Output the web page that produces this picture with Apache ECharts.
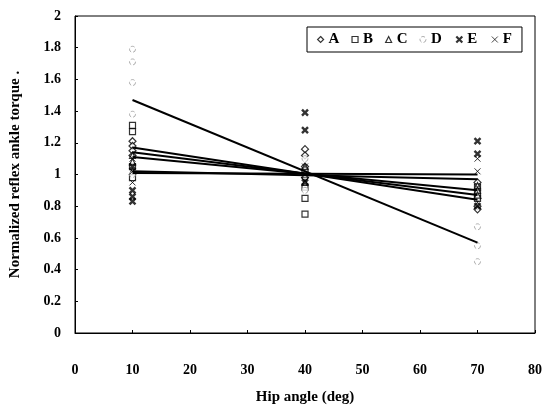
<!DOCTYPE html>
<html>
<head>
<meta charset="utf-8">
<script src="https://cdn.jsdelivr.net/npm/echarts@6/dist/echarts.min.js"></script>
<style>
  html, body { margin: 0; padding: 0; background: #fff; }
  #chart { width: 550px; height: 410px; }
</style>
</head>
<body>
<div id="chart"></div>
<script>
  // hip angles tested
  var angles = [10, 40, 70];

  // individual normalized torques per group, one list per angle
  var ptsA = [[1.21, 1.18, 1.15, 1.12], [1.16, 1.12, 1.05, 0.98], [0.95, 0.85, 0.8, 0.78]];
  var ptsB = [[1.31, 1.27, 1.05, 0.98], [1.02, 0.92, 0.85, 0.75], [0.92, 0.88, 0.85]];
  var ptsC = [[1.12, 1.08, 1.02], [1.05, 1.0, 0.95], [0.93, 0.9, 0.87]];
  var ptsD = [[1.79, 1.71, 1.58, 1.38, 1.0], [1.1, 1.0, 0.9], [0.67, 0.55, 0.45]];
  var ptsE = [[1.05, 0.9, 0.86, 0.83], [1.39, 1.28, 0.95], [1.21, 1.13, 0.8]];
  var ptsF = [[1.1, 1.02, 0.95], [1.05, 1.0, 0.96], [1.1, 1.02, 0.92]];

  // regression line ends (at 10 deg and 70 deg)
  var fitA = [1.17, 0.84];
  var fitB = [1.14, 0.87];
  var fitC = [1.11, 0.9];
  var fitD = [1.47, 0.57];
  var fitE = [1.02, 0.97];
  var fitF = [1.01, 1.0];

  var font = 'Liberation Serif, Times New Roman, serif';
  var xPath = 'path://M0,0 L10,10 M10,0 L0,10';

  function toXY(pts) {
    var out = [];
    pts.forEach(function (list, i) {
      list.forEach(function (v) { out.push([angles[i], v]); });
    });
    return out;
  }

  function scatter(name, pts, symbol, size, style) {
    return {
      name: name, type: 'scatter', data: toXY(pts),
      symbol: symbol, symbolSize: size, z: 3,
      itemStyle: style
    };
  }

  function fit(ends) {
    return {
      type: 'line', data: [[angles[0], ends[0]], [angles[2], ends[1]]],
      symbol: 'none', silent: true, z: 4,
      lineStyle: { color: '#000', width: 2 }
    };
  }

  var hollow = { color: '#fff', borderColor: '#000', borderWidth: 1.2 };
  var dashed = { color: '#fff', borderColor: '#999', borderWidth: 1, borderType: 'dashed' };
  var boldX = { color: 'none', borderColor: '#000', borderWidth: 2.4 };
  var thinX = { color: 'none', borderColor: '#000', borderWidth: 1 };

  var chart = echarts.init(document.getElementById('chart'));
  chart.setOption({
    animation: false,
    textStyle: { fontFamily: font },
    grid: {
      left: 75, right: 15, top: 16, bottom: 72,
      show: true, borderColor: '#000', borderWidth: 1
    },
    legend: {
      data: [
        { name: 'A', itemStyle: hollow },
        { name: 'B', itemStyle: hollow },
        { name: 'C', itemStyle: hollow },
        { name: 'D', itemStyle: dashed },
        { name: 'E', itemStyle: { color: 'none', borderColor: '#000', borderWidth: 2.2 } },
        { name: 'F', itemStyle: { color: 'none', borderColor: '#000', borderWidth: 0.9 } }
      ],
      left: 307, top: 27,
      padding: [5, 10, 5, 10],
      itemGap: 12,
      itemWidth: 6, itemHeight: 6,
      borderColor: '#000', borderWidth: 1,
      textStyle: { fontFamily: font, fontWeight: 'bold', fontSize: 15, color: '#000' }
    },
    xAxis: {
      type: 'value', min: 0, max: 80, interval: 10,
      name: 'Hip angle (deg)', nameLocation: 'middle', nameGap: 57,
      nameTextStyle: { fontFamily: font, fontWeight: 'bold', fontSize: 15, color: '#000' },
      axisLine: { lineStyle: { color: '#000' } },
      axisTick: { inside: true, length: 3, lineStyle: { color: '#000' } },
      axisLabel: { margin: 30, fontFamily: font, fontWeight: 'bold', fontSize: 14, color: '#000' },
      splitLine: { show: false }
    },
    yAxis: {
      type: 'value', min: 0, max: 2, interval: 0.2,
      name: 'Normalized reflex ankle torque .', nameLocation: 'middle', nameGap: 52,
      nameTextStyle: { fontFamily: font, fontWeight: 'bold', fontSize: 15, color: '#000' },
      axisLine: { lineStyle: { color: '#000' } },
      axisTick: { inside: true, length: 3, lineStyle: { color: '#000' } },
      axisLabel: { margin: 14, fontFamily: font, fontWeight: 'bold', fontSize: 14, color: '#000' },
      splitLine: { show: false }
    },
    series: [
      scatter('A', ptsA, 'diamond', 7, hollow),
      scatter('B', ptsB, 'rect', 6, hollow),
      scatter('C', ptsC, 'triangle', 6, hollow),
      scatter('D', ptsD, 'circle', 6, dashed),
      scatter('E', ptsE, xPath, 6, boldX),
      scatter('F', ptsF, xPath, 6, thinX),
      fit(fitA), fit(fitB), fit(fitC), fit(fitD), fit(fitE), fit(fitF)
    ]
  });
</script>
</body>
</html>
